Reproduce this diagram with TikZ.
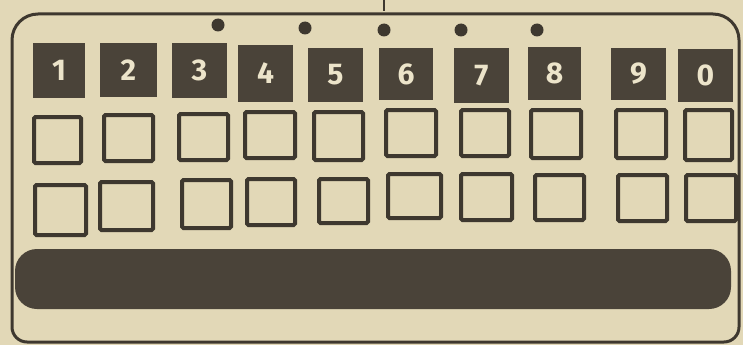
\documentclass[tikz,border=0pt]{standalone}
\usepackage{fontspec}
\setmainfont{Fira Sans}
\begin{document}
\begin{tikzpicture}[x=1pt,y=-1pt,
  ink/.style={line width=3pt,draw=inkc},
  darkkey/.style={fill=keyc,draw=none,inner sep=0pt,text=digc,
    font=\fontsize{30}{30}\selectfont\bfseries},
  emptykey/.style={draw=inkc,line width=4pt,fill=none,inner sep=0pt,rounded corners=1.5pt},
  holedot/.style={fill=inkc,draw=none,circle,inner sep=0pt,minimum size=13pt},
  barstyle/.style={fill=keyc,draw=none,rounded corners=22pt,inner sep=0pt}]
\definecolor{paper}{HTML}{E2D8B7}
\definecolor{inkc}{HTML}{3E382F}
\definecolor{keyc}{HTML}{4A4339}
\definecolor{digc}{HTML}{ECE4CA}
\useasboundingbox (0,0) rectangle (743,345);
\fill[paper] (0,0) rectangle (743,345);
% stray mark at top
\draw[draw=inkc,line width=1.2pt] (384,0) -- (384,11);
% outer frame
\draw[ink] (12,300) -- (12,40) arc[start angle=180,end angle=270,radius=26]
  -- (713,14) arc[start angle=270,end angle=360,radius=26]
  -- (739,327) arc[start angle=0,end angle=90,radius=15]
  -- (27,342) arc[start angle=90,end angle=180,radius=15] -- cycle;
% dots
\node[holedot] (h1) at (218,25) {};
\node[holedot] (h2) at (305,28) {};
\node[holedot] (h3) at (384,30) {};
\node[holedot] (h4) at (461,30) {};
\node[holedot] (h5) at (537,30) {};
% row 1: dark keys
\node[darkkey,minimum width=52pt,minimum height=55pt] (d1) at (59,70.5) {1};
\node[darkkey,minimum width=57pt,minimum height=54pt] (d2) at (128.5,70) {2};
\node[darkkey,minimum width=55pt,minimum height=55pt] (d3) at (199.5,70.5) {3};
\node[darkkey,minimum width=55pt,minimum height=57pt] (d4) at (265.5,73.5) {4};
\node[darkkey,minimum width=55pt,minimum height=54pt] (d5) at (335.5,75) {5};
\node[darkkey,minimum width=54pt,minimum height=52pt] (d6) at (406,74) {6};
\node[darkkey,minimum width=55pt,minimum height=55pt] (d7) at (481.5,75.5) {7};
\node[darkkey,minimum width=53pt,minimum height=53pt] (d8) at (554.5,73.5) {8};
\node[darkkey,minimum width=55pt,minimum height=52pt] (d9) at (638.5,74) {9};
\node[darkkey,minimum width=55pt,minimum height=53pt] (d0) at (705.5,75.5) {0};
% row 2: empty keys
\node[emptykey,minimum width=47pt,minimum height=46pt] (a1) at (57.5,140) {};
\node[emptykey,minimum width=49pt,minimum height=46pt] (a2) at (128.5,138) {};
\node[emptykey,minimum width=49pt,minimum height=46pt] (a3) at (203.5,137) {};
\node[emptykey,minimum width=50pt,minimum height=46pt] (a4) at (270,135) {};
\node[emptykey,minimum width=49pt,minimum height=48pt] (a5) at (338.5,136) {};
\node[emptykey,minimum width=50pt,minimum height=46pt] (a6) at (411,133) {};
\node[emptykey,minimum width=48pt,minimum height=46pt] (a7) at (485,133) {};
\node[emptykey,minimum width=50pt,minimum height=48pt] (a8) at (556,134) {};
\node[emptykey,minimum width=50pt,minimum height=48pt] (a9) at (641,134) {};
\node[emptykey,minimum width=47pt,minimum height=50pt] (a0) at (708.5,135) {};
% row 3: empty keys
\node[emptykey,minimum width=51pt,minimum height=50pt] (b1) at (60.5,210) {};
\node[emptykey,minimum width=53pt,minimum height=48pt] (b2) at (126.5,206) {};
\node[emptykey,minimum width=49pt,minimum height=48pt] (b3) at (206.5,204) {};
\node[emptykey,minimum width=48pt,minimum height=46pt] (b4) at (271,202) {};
\node[emptykey,minimum width=49pt,minimum height=44pt] (b5) at (343.5,201) {};
\node[emptykey,minimum width=53pt,minimum height=44pt] (b6) at (414.5,196) {};
\node[emptykey,minimum width=51pt,minimum height=46pt] (b7) at (486.5,197) {};
\node[emptykey,minimum width=49pt,minimum height=45pt] (b8) at (559.5,197.5) {};
\node[emptykey,minimum width=49pt,minimum height=46pt] (b9) at (642.5,198) {};
\node[emptykey,minimum width=50pt,minimum height=46pt] (b0) at (711,198) {};
% bar
\node[barstyle,minimum width=716pt,minimum height=60pt] (bar) at (373,279) {};
\end{tikzpicture}
\end{document}
